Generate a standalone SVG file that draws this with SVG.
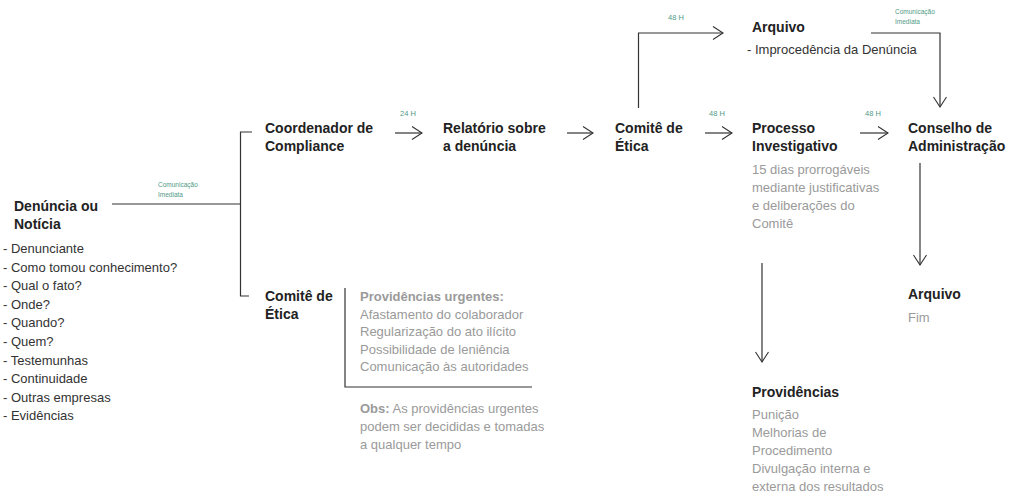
<svg xmlns="http://www.w3.org/2000/svg" width="1009" height="497" viewBox="0 0 1009 497">
<defs>
<marker id="ah" markerUnits="userSpaceOnUse" markerWidth="14" markerHeight="16" refX="11" refY="7" orient="auto" viewBox="0 0 14 14">
<path d="M1,0.5 L11,7 L1,13.5" fill="none" stroke="#333" stroke-width="1.1"/>
</marker>
</defs>
<style>
text{font-family:"Liberation Sans",Arial,sans-serif;}
.h{font-size:14px;font-weight:bold;fill:#222;}
.t{font-size:13px;fill:#333;}
.g{font-size:13px;fill:#9a9a9a;}
.gb{font-size:13px;font-weight:bold;fill:#9a9a9a;}
.s{font-size:7.5px;fill:#4f9a86;}
.xs{font-size:6.5px;fill:#4f9a86;}
.ln{fill:none;stroke:#333;stroke-width:1.2;}
.ar{fill:none;stroke:#333;stroke-width:1.2;marker-end:url(#ah);}
</style>
<rect width="1009" height="497" fill="#fff"/>
<g id="connectors">
<path class="ln" d="M112,204 H240.5"/>
<path class="ln" d="M252,132 H240.5 V296 H249"/>
<path class="ar" d="M395,133 H422"/>
<path class="ar" d="M567,133 H593"/>
<path class="ar" d="M705,133 H732"/>
<path class="ar" d="M860,133 H888"/>
<path class="ar" d="M638.5,108 V33 H723"/>
<path class="ar" d="M871,33 H940 V107"/>
<path class="ar" d="M920,163 V265"/>
<path class="ar" d="M762,263 V362"/>
<path class="ln" d="M345,288 V387 H532"/>
<text class="xs" x="158" y="187">Comunicação</text>
<text class="xs" x="158" y="197">Imediata</text>
<text class="s" x="400" y="116">24 H</text>
<text class="s" x="709" y="116">48 H</text>
<text class="s" x="865" y="116">48 H</text>
<text class="s" x="668" y="19.5">48 H</text>
<text class="xs" x="895" y="14">Comunicação</text>
<text class="xs" x="895" y="24">Imediata</text>
</g>
<g id="denuncia">
<text class="h" x="14" y="211">Denúncia ou</text>
<text class="h" x="14" y="229">Notícia</text>
<text class="t" x="3" y="253">- Denunciante</text>
<text class="t" x="3" y="271.6">- Como tomou conhecimento?</text>
<text class="t" x="3" y="290.2">- Qual o fato?</text>
<text class="t" x="3" y="308.8">- Onde?</text>
<text class="t" x="3" y="327.4">- Quando?</text>
<text class="t" x="3" y="346">- Quem?</text>
<text class="t" x="3" y="364.6">- Testemunhas</text>
<text class="t" x="3" y="383.2">- Continuidade</text>
<text class="t" x="3" y="401.8">- Outras empresas</text>
<text class="t" x="3" y="420.4">- Evidências</text>
</g>
<g id="coordenador">
<text class="h" x="265" y="133">Coordenador de</text>
<text class="h" x="265" y="151">Compliance</text>
</g>
<g id="relatorio">
<text class="h" x="443" y="133">Relatório sobre</text>
<text class="h" x="443" y="151">a denúncia</text>
</g>
<g id="comite1">
<text class="h" x="615" y="133">Comitê de</text>
<text class="h" x="615" y="151">Ética</text>
</g>
<g id="arquivo1">
<text class="h" x="752" y="32">Arquivo</text>
<text class="t" x="747" y="54">- Improcedência da Denúncia</text>
</g>
<g id="processo">
<text class="h" x="752" y="133">Processo</text>
<text class="h" x="752" y="151">Investigativo</text>
<text class="g" x="752" y="174">15 dias prorrogáveis</text>
<text class="g" x="752" y="192">mediante justificativas</text>
<text class="g" x="752" y="210">e deliberações do</text>
<text class="g" x="752" y="228">Comitê</text>
</g>
<g id="conselho">
<text class="h" x="908" y="133">Conselho de</text>
<text class="h" x="908" y="151">Administração</text>
</g>
<g id="arquivo2">
<text class="h" x="908" y="299">Arquivo</text>
<text class="g" x="908" y="322">Fim</text>
</g>
<g id="providencias">
<text class="h" x="752" y="397">Providências</text>
<text class="g" x="752" y="419">Punição</text>
<text class="g" x="752" y="437">Melhorias de</text>
<text class="g" x="752" y="455">Procedimento</text>
<text class="g" x="752" y="473">Divulgação interna e</text>
<text class="g" x="752" y="491">externa dos resultados</text>
</g>
<g id="comite2">
<text class="h" x="265" y="301">Comitê de</text>
<text class="h" x="265" y="319">Ética</text>
</g>
<g id="urgentes">
<text class="gb" x="360" y="301">Providências urgentes:</text>
<text class="g" x="360" y="318.5">Afastamento do colaborador</text>
<text class="g" x="360" y="336">Regularização do ato ilícito</text>
<text class="g" x="360" y="353.5">Possibilidade de leniência</text>
<text class="g" x="360" y="371">Comunicação às autoridades</text>
<text class="g" x="360" y="413"><tspan font-weight="bold">Obs:</tspan> As providências urgentes</text>
<text class="g" x="360" y="431">podem ser decididas e tomadas</text>
<text class="g" x="360" y="449">a qualquer tempo</text>
</g>
</svg>
